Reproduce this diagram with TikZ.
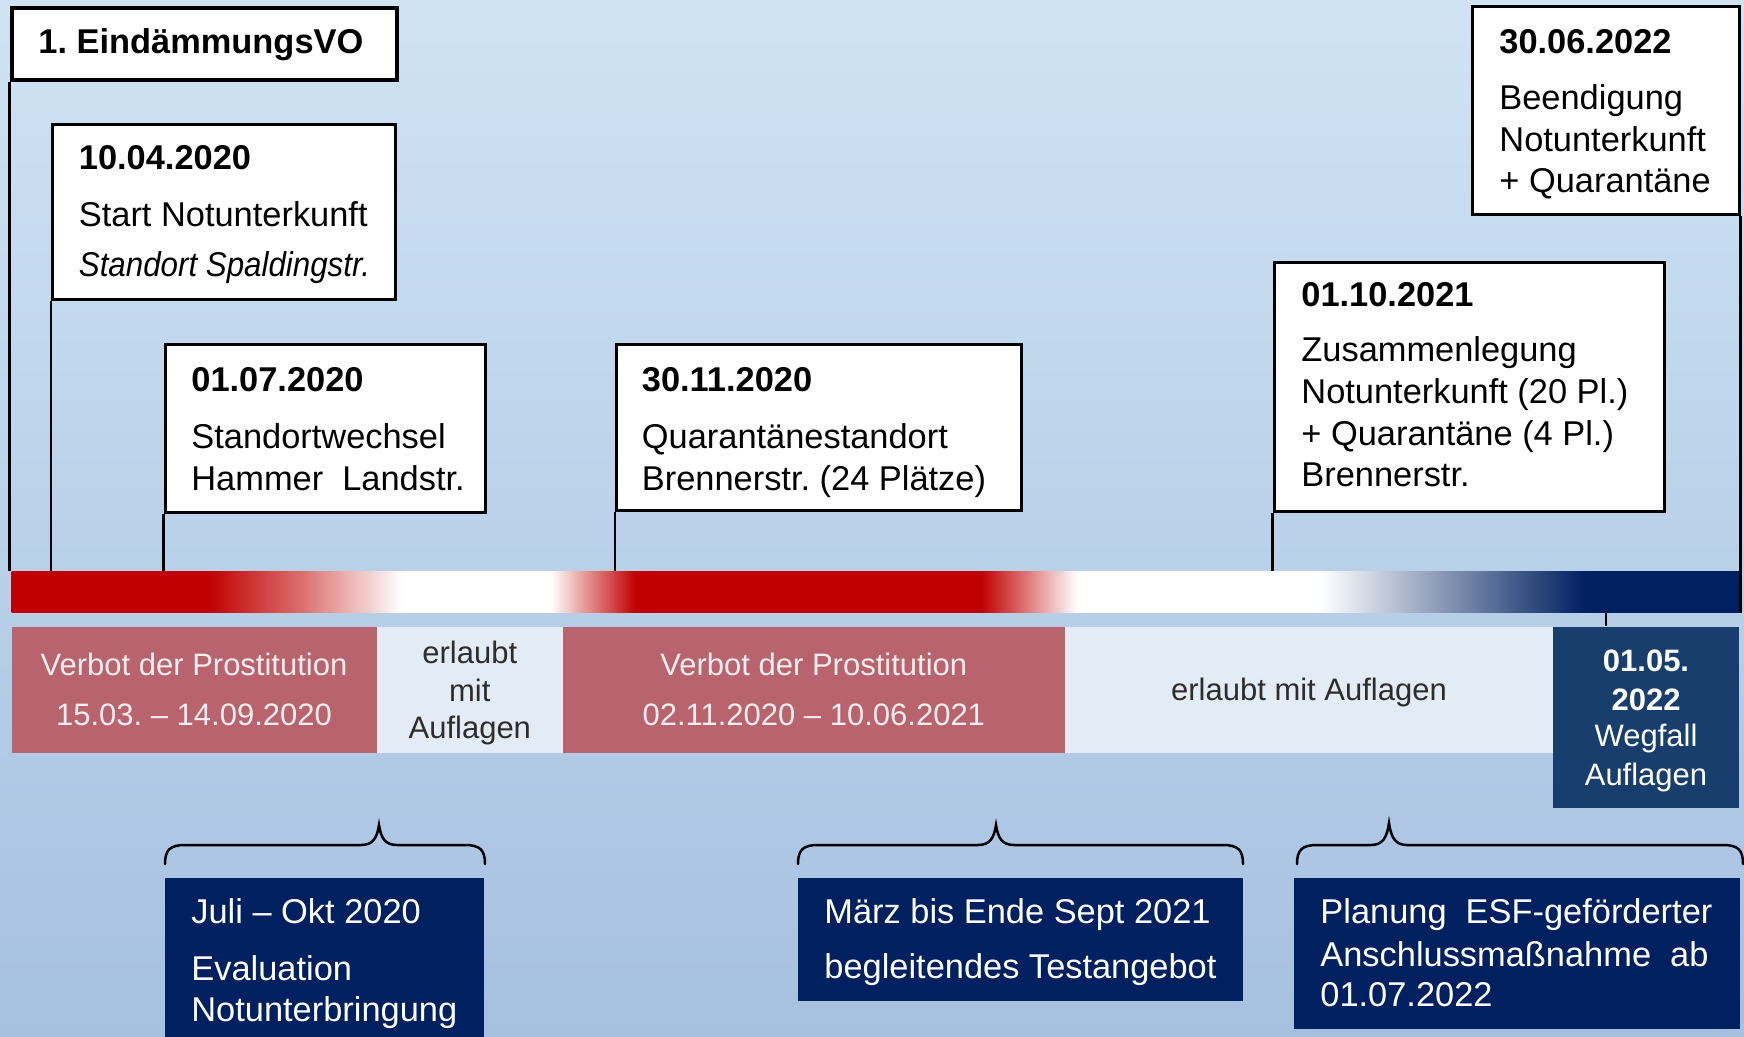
\documentclass[tikz,border=0pt]{standalone}
\usepackage{fontspec}
\setmainfont{Liberation Sans}
\usetikzlibrary{fit}
\frenchspacing
\definecolor{bgtop}{RGB}{207,227,243}
\definecolor{bgbot}{RGB}{166,192,224}
\definecolor{barred}{RGB}{192,0,0}
\definecolor{barnavy}{RGB}{0,32,96}
\definecolor{redbox}{RGB}{184,99,110}
\definecolor{lightbox}{RGB}{227,235,245}
\definecolor{navybox}{RGB}{0,32,96}
\definecolor{box7c}{RGB}{24,62,110}
\definecolor{redtxt}{RGB}{248,238,238}
\definecolor{graytxt}{RGB}{45,45,45}
\pgfdeclarehorizontalshading{barshade}{100bp}{color(0bp)=(barred); color(25bp)=(barred); color(30.66bp)=(barred); color(33.2bp)=(barred!60!white); color(36.30bp)=(white); color(40.61bp)=(white); color(43.07bp)=(barred); color(53.06bp)=(barred); color(55.84bp)=(white); color(62.87bp)=(white); color(70.54bp)=(barnavy); color(75bp)=(barnavy); color(100bp)=(barnavy)}
\tikzset{
  wbox/.style={draw=black, fill=white, line width=1.5pt, inner sep=0pt, rectangle},
  flat/.style={inner sep=0pt, rectangle, draw=none},
  conn/.style={draw=black, line width=1.3pt},
  brc/.style={draw=black, line width=1.25pt, line cap=round},
  date/.style={font=\fontsize{17.2}{20.6}\selectfont\bfseries, inner sep=0pt, text=black},
  txt/.style={font=\fontsize{17.2}{20.6}\selectfont, inner sep=0pt, text=black},
  rtxt/.style={font=\fontsize{15.5}{18.6}\selectfont, inner sep=0pt, text=redtxt, anchor=base},
  gtxt/.style={font=\fontsize{15.5}{18.6}\selectfont, inner sep=0pt, text=graytxt, anchor=base},
  wtxt/.style={font=\fontsize{17.2}{20.6}\selectfont, inner sep=0pt, text=white, anchor=base west},
  btxt/.style={font=\fontsize{15.5}{18.6}\selectfont, inner sep=0pt, text=white, anchor=base},
}
\begin{document}
\begin{tikzpicture}[x=0.5pt,y=-0.5pt]
\clip (0,0) rectangle (1744,1037);
\shade[top color=bgtop, bottom color=bgbot] (0,0) rectangle (1744,1037);

% timeline bar
\node[flat, shade, shading=barshade, fit={(11.5,571.7) (1739,612.7)}] (bar) {};

% event boxes
\node[wbox, line width=2pt, fit={(11.5,8.3) (397,80)}] (b1) {};
\node[date, anchor=base west] (t1) at (38,53.3) {1. EindämmungsVO};

\node[wbox, fit={(52.4,125) (395,300)}] (b2) {};
\node[date, anchor=base west] (t2a) at (78.5,170) {10.04.2020};
\node[txt, anchor=base west] (t2b) at (78.5,226.7) {Start Notunterkunft};
\node[txt, anchor=base west] (t2c) at (78.5,276.7) {\scalebox{0.91}[1]{\itshape Standort Spaldingstr.}};

\node[wbox, fit={(165,345) (485,512.3)}] (b3) {};
\node[date, anchor=base west] (t3a) at (191,391.7) {01.07.2020};
\node[txt, anchor=base west] (t3b) at (191,448.3) {Standortwechsel};
\node[txt, anchor=base west] (t3c) at (191,490) {Hammer\ \ Landstr.};

\node[wbox, fit={(616.6,345) (1021,510.7)}] (b4) {};
\node[date, anchor=base west] (t4a) at (641.5,391.7) {30.11.2020};
\node[txt, anchor=base west] (t4b) at (641.5,448.3) {Quarantänestandort};
\node[txt, anchor=base west] (t4c) at (641.5,490) {Brennerstr. (24 Plätze)};

\node[wbox, fit={(1274,262.7) (1664,511.7)}] (b5) {};
\node[date, anchor=base west] (t5a) at (1301,306.7) {01.10.2021};
\node[txt, anchor=base west] (t5b) at (1301,361.7) {Zusammenlegung};
\node[txt, anchor=base west] (t5c) at (1301,403.3) {Notunterkunft (20 Pl.)};
\node[txt, anchor=base west] (t5d) at (1301,445) {+ Quarantäne (4 Pl.)};
\node[txt, anchor=base west] (t5e) at (1301,486.7) {Brennerstr.};

\node[wbox, fit={(1472.7,6.7) (1739,215)}] (b6) {};
\node[date, anchor=base west] (t6a) at (1499,53.3) {30.06.2022};
\node[txt, anchor=base west] (t6b) at (1499,110) {Beendigung};
\node[txt, anchor=base west] (t6c) at (1499,151.7) {Notunterkunft};
\node[txt, anchor=base west] (t6d) at (1499,192.7) {+ Quarantäne};

% connectors to the bar
\draw[conn] (b1.south west) -- (b1.south west |- bar.north);
\draw[conn] (b2.south west) -- (b2.south west |- bar.north);
\draw[conn] (b3.south west) -- (b3.south west |- bar.north);
\draw[conn] (b4.south west) -- (b4.south west |- bar.north);
\draw[conn] (b5.south west) -- (b5.south west |- bar.north);
\draw[conn] (b6.south east) -- (b6.south east |- bar.south);

% phase row
\node[flat, fill=redbox, fit={(11.5,626.7) (377,753.3)}] (r1) {};
\node[flat, fill=lightbox, fit={(377,626.7) (562.6,753.3)}] (l1) {};
\node[flat, fill=redbox, fit={(562.6,626.7) (1065,753.3)}] (r2) {};
\node[flat, fill=lightbox, fit={(1065,626.7) (1553,753.3)}] (l2) {};
\node[flat, fill=box7c, fit={(1553,626.7) (1739,808.3)}] (b7) {};

\node[rtxt] (r1a) at (194,675) {Verbot der Prostitution};
\node[rtxt] (r1b) at (194,725.7) {15.03. – 14.09.2020};
\node[gtxt] (l1a) at (469.8,663.3) {erlaubt};
\node[gtxt] (l1b) at (469.8,701.7) {mit};
\node[gtxt] (l1c) at (469.8,738.3) {Auflagen};
\node[rtxt] (r2a) at (813.8,675) {Verbot der Prostitution};
\node[rtxt] (r2b) at (813.8,725.7) {02.11.2020 – 10.06.2021};
\node[gtxt] (l2a) at (1309,700) {erlaubt mit Auflagen};
\node[btxt, font=\fontsize{15.5}{18.6}\selectfont\bfseries] (b7a) at (1646,671.7) {01.05.};
\node[btxt, font=\fontsize{15.5}{18.6}\selectfont\bfseries] (b7b) at (1646,710) {2022};
\node[btxt] (b7c) at (1646,746.7) {Wegfall};
\node[btxt] (b7d) at (1646,785) {Auflagen};

\coordinate (c7) at (1606,612.7);
\draw[conn] (c7) -- (c7 |- b7.north);

% braces
\draw[brc] (165,864) .. controls (165,850) and (170,845) .. (185,845) -- (361,845) .. controls (373,845) and (377,838) .. (379,825) .. controls (381,838) and (385,845) .. (397,845) -- (465,845) .. controls (480,845) and (485,850) .. (485,864);
\draw[brc] (798,864) .. controls (798,850) and (803,845) .. (818,845) -- (978,845) .. controls (990,845) and (994,838) .. (996,825) .. controls (998,838) and (1002,845) .. (1014,845) -- (1223,845) .. controls (1238,845) and (1243,850) .. (1243,864);
\draw[brc] (1297,864) .. controls (1297,850) and (1302,845) .. (1317,845) -- (1371,845) .. controls (1383,845) and (1387,837) .. (1389,823) .. controls (1391,837) and (1395,845) .. (1407,845) -- (1723,845) .. controls (1738,845) and (1743,850) .. (1743,864);

% dark boxes
\node[flat, fill=navybox, fit={(165,878.3) (484,1045)}] (d1) {};
\node[wtxt] (d1a) at (191,923) {Juli – Okt 2020};
\node[wtxt] (d1b) at (191,980.7) {Evaluation};
\node[wtxt] (d1c) at (191,1021.7) {Notunterbringung};

\node[flat, fill=navybox, fit={(798,878.3) (1243,1000.7)}] (d2) {};
\node[wtxt] (d2a) at (824,923.3) {März bis Ende Sept 2021};
\node[wtxt] (d2b) at (824,978.3) {begleitendes Testangebot};

\node[flat, fill=navybox, fit={(1294.4,878.3) (1739.6,1029.3)}] (d3) {};
\node[wtxt] (d3a) at (1320,923.3) {Planung\ \ ESF-geförderter};
\node[wtxt] (d3b) at (1320,966) {Anschlussmaßnahme\ \ ab};
\node[wtxt] (d3c) at (1320,1006.7) {01.07.2022};
\end{tikzpicture}
\end{document}
